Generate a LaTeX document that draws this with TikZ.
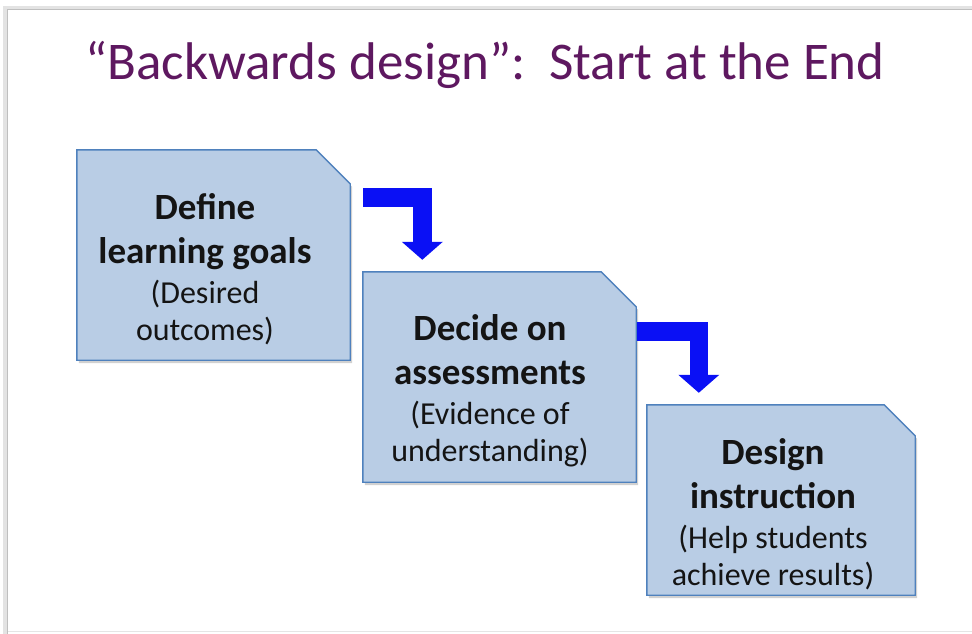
\documentclass[tikz,border=0pt]{standalone}
\usepackage{fontspec}
\setmainfont{Carlito}
\usetikzlibrary{arrows.meta,calc}

\definecolor{titlepurple}{RGB}{94,24,96}
\definecolor{boxfill}{RGB}{185,205,229}
\definecolor{boxedge}{RGB}{79,129,189}
\definecolor{arrowblue}{RGB}{10,16,245}
\definecolor{ink}{RGB}{20,20,20}

\tikzset{
  boxshape/.style={inner sep=0pt, draw=none},
  boxline/.style={draw=boxedge, fill=boxfill, line width=1.4pt, line join=miter},
  boxshadow/.style={fill=black, opacity=0.18},
  boxtext/.style={align=center, text=ink, inner sep=0pt,
    font=\fontsize{32}{37.5}\selectfont},
  blockarrow/.style={draw=arrowblue, line width=18.5pt, line cap=butt,
    line join=miter, -{Triangle[width=40pt,length=18pt,fill=arrowblue]}},
}

% outline of a box with its upper right corner cut off
\newcommand\snipbox[2]{%
  \fill[boxshadow] ([shift={(2pt,-3pt)}]#1.north west)
    -- ([shift={(-#2pt+2pt,-3pt)}]#1.north east)
    -- ([shift={(2pt,-#2pt-3pt)}]#1.north east)
    -- ([shift={(2pt,-3pt)}]#1.south east)
    -- ([shift={(2pt,-3pt)}]#1.south west) -- cycle;
  \draw[boxline] (#1.north west) -- ([xshift=-#2pt]#1.north east)
    -- ([yshift=-#2pt]#1.north east) -- (#1.south east)
    -- (#1.south west) -- cycle;}

\newcommand\bfline[1]{{\fontsize{37}{37.5}\selectfont\bfseries #1}}

\begin{document}
\begin{tikzpicture}[x=1pt,y=-1pt]
\useasboundingbox (0,0) rectangle (972,634);
\fill[white] (0,0) rectangle (972,634);

% slide frame with its shadow
\fill[white] (8,10) rectangle (972,631);
\draw[gray!22, line width=4pt] (5,634) -- (5,8) -- (972,8);
\draw[gray!50, line width=1.6pt] (7.5,634) -- (7.5,9.5) -- (972,9.5);
\draw[gray!20, line width=1.2pt] (8,631.5) -- (972,631.5);

% title
\node[text=titlepurple, font=\fontsize{53}{60}\selectfont, anchor=base]
  (title) at (485,80) {“Backwards design”:\ \ Start at the End};

% the three steps
\node[boxshape, minimum width=273pt, minimum height=210pt] (b1) at (213.5,255) {};
\node[boxshape, minimum width=273pt, minimum height=210pt] (b2) at (499.5,377) {};
\node[boxshape, minimum width=268pt, minimum height=190pt] (b3) at (781,500) {};

\snipbox{b1}{34}
\snipbox{b2}{35}
\snipbox{b3}{31}

\node[boxtext] (t1) at (205,269)
  {\bfline{Define}\\[6.5pt]\bfline{learning goals}\\[2.5pt](Desired\\outcomes)};
\node[boxtext] (t2) at (490,391)
  {\bfline{Decide on}\\[6.5pt]\bfline{assessments}\\[2.5pt](Evidence of\\understanding)};
\node[boxtext] (t3) at (773,514)
  {\bfline{Design}\\[6.5pt]\bfline{instruction}\\[2.5pt](Help students\\achieve results)};

% bent arrows between the steps
\draw[blockarrow] ($(b1.north east)+(13,47.5)$) -| ($(b2.north west)+(59.5,-12)$);
\draw[blockarrow] ($(b2.north east)+(1,59.5)$) -| ($(b3.north west)+(52,-12)$);
\end{tikzpicture}
\end{document}
